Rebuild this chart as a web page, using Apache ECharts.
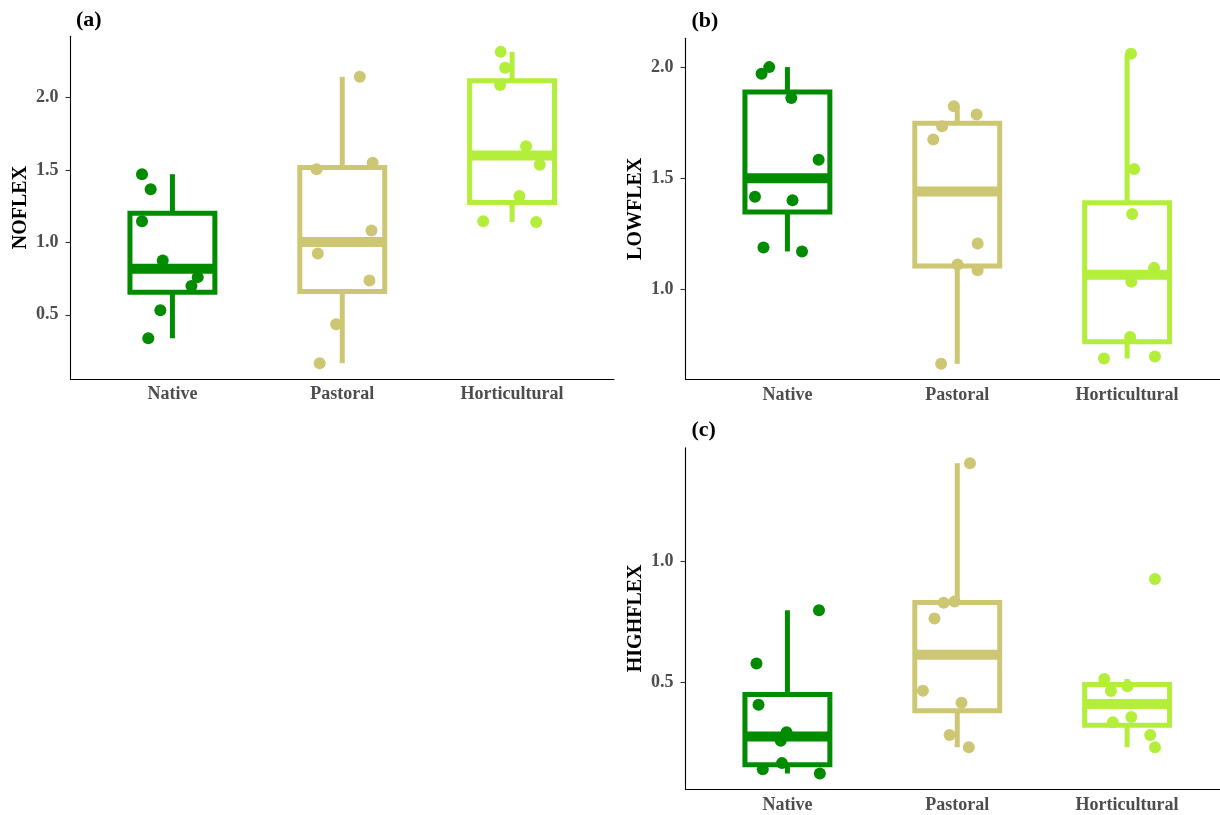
<!DOCTYPE html>
<html>
<head>
<meta charset="utf-8">
<script src="https://cdn.jsdelivr.net/npm/echarts@6/dist/echarts.min.js"></script>
<style>
html, body { margin: 0; padding: 0; background: #fff; }
#main { width: 1220px; height: 815px; }
</style>
</head>
<body>
<div id="main"></div>
<script>
var categories = ['Native', 'Pastoral', 'Horticultural'];

// (a) NOFLEX - values and horizontal jitter
var noflexNative = [1.470, 1.367, 1.145, 0.875, 0.760, 0.698, 0.531, 0.338];
var noflexNativeJit = [-0.179, -0.128, -0.179, -0.057, 0.149, 0.112, -0.071, -0.142];
var noflexPastoral = [2.142, 1.505, 1.549, 1.081, 0.923, 0.737, 0.435, 0.166];
var noflexPastoralJit = [0.103, -0.151, 0.179, 0.172, -0.144, 0.160, -0.036, -0.133];
var noflexHort = [2.314, 2.204, 2.085, 1.663, 1.535, 1.319, 1.145, 1.140];
var noflexHortJit = [-0.067, -0.041, -0.071, 0.082, 0.163, 0.043, -0.170, 0.142];

// (b) LOWFLEX
var lowflexNative = [1.970, 2.000, 1.861, 1.583, 1.416, 1.401, 1.188, 1.170];
var lowflexNativeJit = [-0.152, -0.107, 0.023, 0.184, -0.191, 0.030, -0.141, 0.086];
var lowflexPastoral = [1.824, 1.787, 1.734, 1.674, 1.206, 1.111, 1.085, 0.664];
var lowflexPastoralJit = [-0.020, 0.114, -0.089, -0.141, 0.120, 0.002, 0.120, -0.095];
var lowflexHort = [2.060, 1.541, 1.339, 1.096, 1.033, 0.785, 0.688, 0.697];
var lowflexHortJit = [0.023, 0.041, 0.030, 0.159, 0.025, 0.018, -0.136, 0.164];

// (c) HIGHFLEX
var highflexNative = [0.797, 0.576, 0.405, 0.291, 0.256, 0.163, 0.138, 0.120];
var highflexNativeJit = [0.186, -0.182, -0.170, -0.005, -0.039, -0.032, -0.145, 0.191];
var highflexPastoral = [1.407, 0.833, 0.828, 0.763, 0.463, 0.413, 0.280, 0.229];
var highflexPastoralJit = [0.075, -0.016, -0.080, -0.134, -0.202, 0.025, -0.045, 0.068];
var highflexHort = [0.927, 0.512, 0.482, 0.462, 0.354, 0.333, 0.280, 0.229];
var highflexHortJit = [0.164, -0.134, 0.002, -0.095, 0.025, -0.084, 0.136, 0.164];

var noflexTicks = [0.5, 1.0, 1.5, 2.0];
var lowflexTicks = [1.0, 1.5, 2.0];
var highflexTicks = [0.5, 1.0];

var groupColors = ['#008B00', '#CDC673', '#B3EE3A'];
var serif = 'Liberation Serif';
var boxWidth = 0.5;

var panels = [
	{ title: '(a)', name: 'NOFLEX', ticks: noflexTicks,
		groups: [noflexNative, noflexPastoral, noflexHort],
		jits: [noflexNativeJit, noflexPastoralJit, noflexHortJit],
		grid: { left: 70.5, top: 36.3, width: 543.5, height: 342.5 }, tl: 71, tt: 4 },
	{ title: '(b)', name: 'LOWFLEX', ticks: lowflexTicks,
		groups: [lowflexNative, lowflexPastoral, lowflexHort],
		jits: [lowflexNativeJit, lowflexPastoralJit, lowflexHortJit],
		grid: { left: 685.5, top: 38.3, width: 543.5, height: 341 }, tl: 686.5, tt: 5 },
	{ title: '(c)', name: 'HIGHFLEX', ticks: highflexTicks,
		groups: [highflexNative, highflexPastoral, highflexHort],
		jits: [highflexNativeJit, highflexPastoralJit, highflexHortJit],
		grid: { left: 685.5, top: 447.7, width: 543.5, height: 341.3 }, tl: 686.5, tt: 414 }
];

// quantile like R type 7
function quant(sorted, p) {
	var h = (sorted.length - 1) * p;
	var lo = Math.floor(h);
	var hi = Math.ceil(h);
	return sorted[lo] + (h - lo) * (sorted[hi] - sorted[lo]);
}

function boxStats(vals) {
	var s = vals.slice().sort(function(a, b) { return a - b; });
	var q1 = quant(s, 0.25), md = quant(s, 0.5), q3 = quant(s, 0.75);
	var iqr = q3 - q1;
	var lo = s[s.length - 1], hi = s[0];
	for (var i = 0; i < s.length; i++) {
		if (s[i] >= q1 - 1.5 * iqr && s[i] < lo) lo = s[i];
		if (s[i] <= q3 + 1.5 * iqr && s[i] > hi) hi = s[i];
	}
	return [lo, q1, md, q3, hi];
}

function renderBox(params, api) {
	var x = api.value(0);
	var lo = api.coord([x, api.value(1)]);
	var q1 = api.coord([x, api.value(2)]);
	var md = api.coord([x, api.value(3)]);
	var q3 = api.coord([x, api.value(4)]);
	var hi = api.coord([x, api.value(5)]);
	var half = api.size([boxWidth, 0])[0] / 2;
	var color = api.visual('color');
	return {
		type: 'group',
		children: [
			{ type: 'line', shape: { x1: lo[0], y1: lo[1], x2: q1[0], y2: q1[1] }, style: { stroke: color, lineWidth: 5 } },
			{ type: 'line', shape: { x1: q3[0], y1: q3[1], x2: hi[0], y2: hi[1] }, style: { stroke: color, lineWidth: 5 } },
			{ type: 'rect', shape: { x: q3[0] - half, y: q3[1], width: half * 2, height: q1[1] - q3[1] },
				style: { fill: '#fff', stroke: color, lineWidth: 5 } },
			{ type: 'line', shape: { x1: md[0] - half, y1: md[1], x2: md[0] + half, y2: md[1] },
				style: { stroke: color, lineWidth: 10 } }
		]
	};
}

var grids = [], xAxes = [], yAxes = [], titles = [], series = [];

panels.forEach(function(p, k) {
	var all = [].concat(p.groups[0], p.groups[1], p.groups[2]);
	var mn = Math.min.apply(null, all), mx = Math.max.apply(null, all);
	var pad = (mx - mn) * 0.05;

	grids.push({ left: p.grid.left, top: p.grid.top, width: p.grid.width, height: p.grid.height,
		containLabel: false, outerBoundsMode: 'none' });

	titles.push({ text: p.title, left: p.tl, top: p.tt,
		textStyle: { fontFamily: serif, fontWeight: 'bold', fontSize: 22, color: '#000' } });

	xAxes.push({
		type: 'value', gridIndex: k, min: 0.4, max: 3.6,
		splitLine: { show: false },
		axisLine: { show: true, onZero: false, lineStyle: { color: '#000', width: 1.1 } },
		axisTick: { show: false },
		axisLabel: {
			customValues: [1, 2, 3],
			formatter: function(v) { return categories[Math.round(v) - 1]; },
			color: '#4D4D4D', fontFamily: serif, fontWeight: 'bold', fontSize: 18, margin: 7
		}
	});

	yAxes.push({
		type: 'value', gridIndex: k, min: mn - pad, max: mx + pad,
		name: p.name, nameLocation: 'middle', nameRotate: 90, nameGap: 40,
		nameTextStyle: { fontFamily: serif, fontWeight: 'bold', fontSize: 20, color: '#000' },
		splitLine: { show: false },
		axisLine: { show: true, onZero: false, lineStyle: { color: '#000', width: 1.1 } },
		axisTick: { show: true, customValues: p.ticks, length: 5, lineStyle: { color: '#333', width: 1.1 } },
		axisLabel: {
			customValues: p.ticks,
			formatter: function(v) { return v.toFixed(1); },
			color: '#4D4D4D', fontFamily: serif, fontWeight: 'bold', fontSize: 18, margin: 12
		}
	});

	var boxData = [];
	for (var g = 0; g < 3; g++) {
		boxData.push({ value: [g + 1].concat(boxStats(p.groups[g])), itemStyle: { color: groupColors[g] } });
	}
	series.push({
		type: 'custom', xAxisIndex: k, yAxisIndex: k, z: 2,
		renderItem: renderBox,
		encode: { x: 0, y: [1, 2, 3, 4, 5] },
		data: boxData,
		silent: true
	});

	for (var g2 = 0; g2 < 3; g2++) {
		var pts = [];
		for (var i = 0; i < p.groups[g2].length; i++) {
			pts.push([g2 + 1 + p.jits[g2][i], p.groups[g2][i]]);
		}
		series.push({
			type: 'scatter', xAxisIndex: k, yAxisIndex: k, z: 3,
			symbol: 'circle', symbolSize: 12,
			itemStyle: { color: groupColors[g2], opacity: 1 },
			data: pts,
			silent: true
		});
	}
});

var myChart = echarts.init(document.getElementById('main'), null, { renderer: 'canvas' });
myChart.setOption({
	backgroundColor: '#fff',
	animation: false,
	title: titles,
	grid: grids,
	xAxis: xAxes,
	yAxis: yAxes,
	series: series
});
</script>
</body>
</html>
